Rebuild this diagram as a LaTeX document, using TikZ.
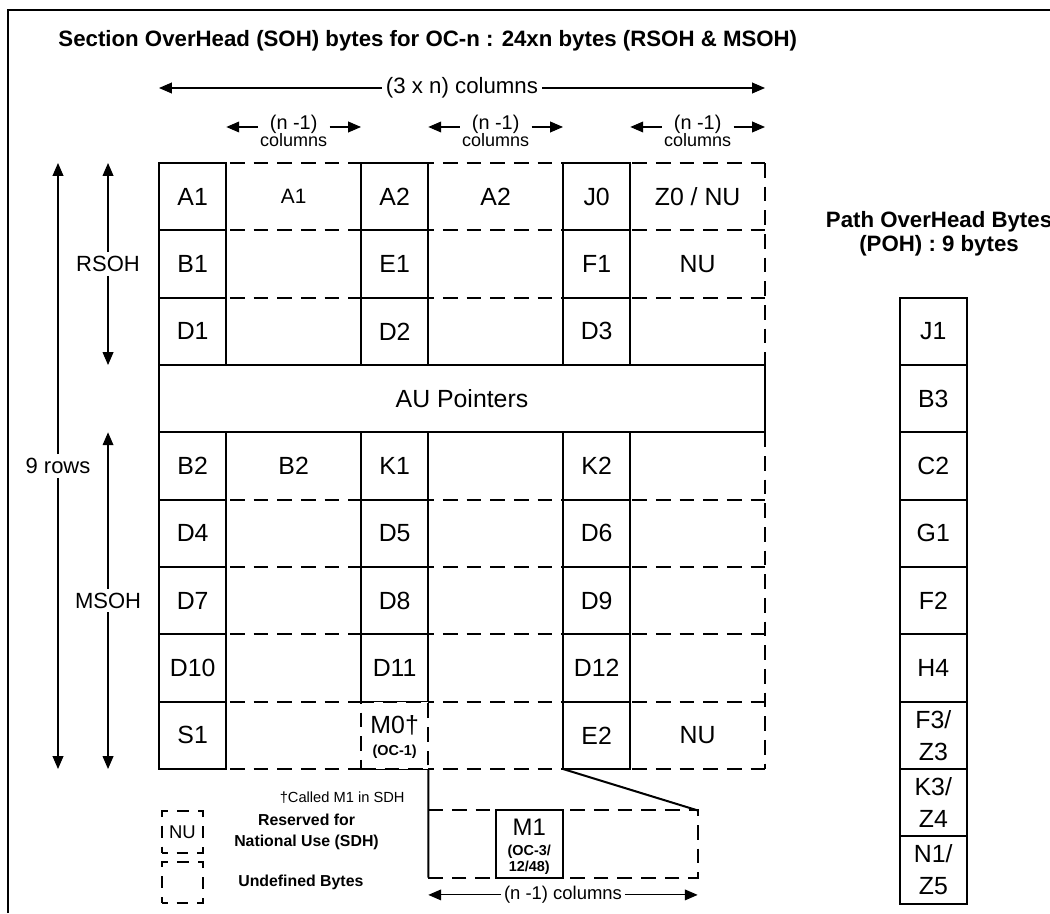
\documentclass[tikz,border=0pt]{standalone}
\usepackage{fontspec}
\setmainfont{Liberation Sans}
\usetikzlibrary{positioning,arrows.meta}

\begin{document}
\begin{tikzpicture}[
  byte/.style={draw,line width=0.85pt,minimum size=1cm,inner sep=0pt,outer sep=0pt,
    font=\fontsize{10.5}{13.5}\selectfont},
  wide/.style={minimum width=2cm,minimum height=1cm,inner sep=0pt,
    font=\fontsize{10.5}{13.5}\selectfont},
  undef/.style={line width=0.85pt,dash pattern=on 6.2pt off 3.8pt},
  keybox/.style={draw,line width=0.85pt,dash pattern=on 5pt off 3.8pt,dash phase=2.5pt,
    minimum size=0.62cm,inner sep=0pt,font=\fontsize{7.8}{9}\selectfont},
  tip/.style={-{Triangle[length=0.19cm,width=0.16cm]},line width=0.45pt},
  note/.style={font=\fontsize{9.3}{11}\selectfont},
  gap/.style={fill=white,inner sep=1.5pt},
  tag/.style={font=\bfseries\fontsize{6.1}{6.7}\selectfont,align=center,inner sep=0pt},
  keytext/.style={font=\bfseries\fontsize{6.7}{8.8}\selectfont,align=center}]
  \useasboundingbox (-2.3615,-11.139) rectangle (13.233,2.4209);
  \draw[line width=1pt] (-2.243,-11.139) |- (13.233,2.272);
  % title and column widths
  \node[anchor=base west,inner sep=0pt,font=\bfseries\fontsize{9.4}{11}\selectfont] (title) at (-1.5,1.723)
    {Section OverHead (SOH) bytes for OC-n : 24xn bytes (RSOH \& MSOH)};
  \coordinate (colsL) at (0,1.114);
  \coordinate (colsR) at (9,1.114);
  \node[note,gap,font=\fontsize{9.4}{11}\selectfont] (cols) at (4.5,1.114) {(3 x n) columns};
  \draw[tip] (cols) -- (colsL);
  \draw[tip] (cols) -- (colsR);
  \foreach \c/\n in {2/n2,5/n5,8/n8} {
    \coordinate (\n L) at (\c-1,0.535);
    \coordinate (\n R) at (\c+1,0.535);
    \node[gap,inner ysep=0.5pt,inner xsep=5pt,font=\fontsize{8.4}{9}\selectfont] (\n) at (\c,0.58) {(n -1)};
    \node[inner sep=0.5pt,font=\fontsize{7.6}{9}\selectfont,below=-1.5pt of \n] (\n w) {columns};
    \draw[tip] (\n.west |- \n L) -- (\n L);
    \draw[tip] (\n.east |- \n R) -- (\n R);
  }
  % undefined bytes: dashed row lines and right edge
  \foreach \y in {0,-1,-2,-4,-5,-6,-7,-8,-9}
    \draw[undef] (0,\y) -- (9,\y);
  \draw[undef] (9,0) -- (9,-3);
  \draw[undef] (9,-4) -- (9,-9);
  % section overhead bytes
  \node[byte,minimum width=9cm] (AU) at (4.5,-3.5) {AU Pointers};
  \foreach \r/\a/\b/\c in {1/A1/A2/J0,2/B1/E1/F1,3/D1/D2/D3,5/B2/K1/K2,
                           6/D4/D5/D6,7/D7/D8/D9,8/D10/D11/D12} {
    \node[byte] (\a) at (0.5,0.5-\r) {\a};
    \node[byte] (\b) at (3.5,0.5-\r) {\b};
    \node[byte] (\c) at (6.5,0.5-\r) {\c};
  }
  \node[byte] (S1) at (0.5,-8.5) {S1};
  \node[byte] (E2) at (6.5,-8.5) {E2};
  \node[byte,undef,fill=white] (M0) at (3.5,-8.5) {};
  \node[inner sep=0pt,font=\fontsize{10.5}{12}\selectfont] (M0t) at (3.5,-8.347) {M0†};
  \node[tag] (M0n) at (3.5,-8.748) {(OC-1)};
  % (n-1) columns contents
  \node[wide,font=\fontsize{8.8}{10}\selectfont] (A1x) at (2,-0.5) {A1};
  \node[wide] (A2x) at (5,-0.5) {A2};
  \node[wide] (Z0x) at (8,-0.5) {Z0 / NU};
  \node[wide] (NUa) at (8,-1.5) {NU};
  \node[wide] (B2x) at (2,-4.5) {B2};
  \node[wide] (NUb) at (8,-8.5) {NU};
  % rows
  \coordinate (rowsT) at (-1.5,0);
  \coordinate (rowsB) at (-1.5,-9);
  \node[note,gap] (rows) at (-1.5,-4.5) {9 rows};
  \draw[tip] (rows) -- (rowsT);
  \draw[tip] (rows) -- (rowsB);
  \coordinate (rsT) at (-0.757,0);
  \coordinate (rsB) at (-0.757,-3);
  \node[note,gap] (RSOH) at (-0.757,-1.5) {RSOH};
  \draw[tip] (RSOH) -- (rsT);
  \draw[tip] (RSOH) -- (rsB);
  \coordinate (msT) at (-0.757,-4);
  \coordinate (msB) at (-0.757,-9);
  \node[note,gap] (MSOH) at (-0.757,-6.5) {MSOH};
  \draw[tip] (MSOH) -- (msT);
  \draw[tip] (MSOH) -- (msB);
  % M1 expanded
  \coordinate (xTL) at (4,-9.615);
  \coordinate (xTR) at (8,-9.615);
  \coordinate (xBR) at (8,-10.615);
  \coordinate (xBL) at (4,-10.615);
  \draw[undef] (xTL) -- (xTR) -- (xBR) -- (xBL);
  \draw[line width=0.85pt] (M0.south east) -- (xBL);
  \draw[line width=0.85pt] (E2.south west) -- (xTR);
  \node[byte] (M1) at (5.5,-10.115) {};
  \node[inner sep=0pt,font=\fontsize{10.1}{12}\selectfont] (M1t) at (5.5,-9.862) {M1};
  \node[tag] (M1n) at (5.5,-10.35) {(OC-3/\\12/48)};
  \coordinate (bcL) at (4,-10.87);
  \coordinate (bcR) at (8,-10.87);
  \node[gap,inner sep=1pt,font=\fontsize{7.8}{9}\selectfont] (bcols) at (6,-10.87) {(n -1) columns};
  \draw[tip] (bcols) -- (bcL);
  \draw[tip] (bcols) -- (bcR);
  % key
  \node[font=\fontsize{6.2}{7}\selectfont] (dag) at (2.72,-9.42) {†Called M1 in SDH};
  \node[keybox] (keyNU) at (0.349,-9.935) {NU};
  \node[keybox] (keyU) at (0.349,-10.686) {};
  \node[keytext,right=0.32cm of keyNU] (keyNUt) {Reserved for\\National Use (SDH)};
  \node[keytext,right=0.38cm of keyU] (keyUt) {Undefined Bytes};
  % path overhead
  \node[font=\bfseries\fontsize{9.4}{10.4}\selectfont,align=center] (POH) at (11.585,-1.05)
    {Path OverHead Bytes\\(POH) : 9 bytes};
  \foreach \t [count=\i] in {J1,B3,C2,G1,F2,H4,{F3/\\Z3},{K3/\\Z4},{N1/\\Z5}}
    \node[byte,align=center] (P\i) at (11.5,-1.5-\i) {\t};
\end{tikzpicture}
\end{document}
